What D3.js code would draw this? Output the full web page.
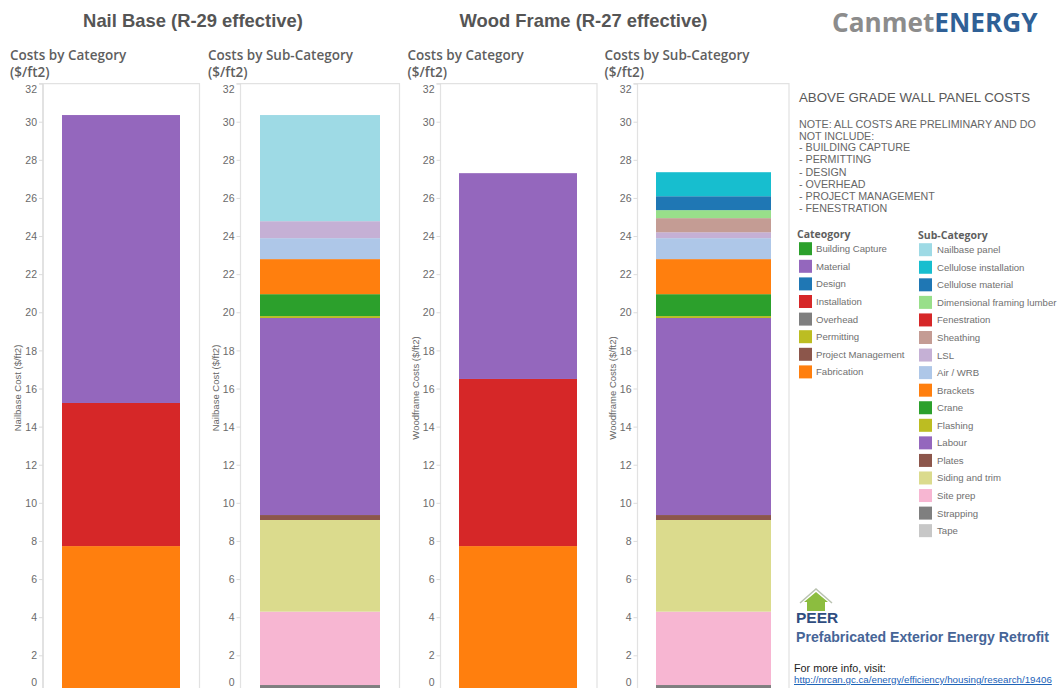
<!DOCTYPE html>
<html><head><meta charset="utf-8">
<script src="https://cdnjs.cloudflare.com/ajax/libs/d3/7.8.5/d3.min.js"></script>
<style>html,body{margin:0;padding:0;background:#fff;overflow:hidden}svg{display:block}text{font-family:"Liberation Sans",Arial,sans-serif}</style>
</head><body><svg id="c" width="1059" height="688"></svg>
<script>
// ---- data (top of stack to bottom, $/ft2) ----
const categoryNames = ["Building Capture","Material","Design","Installation","Overhead","Permitting","Project Management","Fabrication"];
const categoryColors = ["#2ca02c","#9467bd","#1f77b4","#d62728","#7f7f7f","#bcbd22","#8c564b","#ff7f0e"];
const subCategoryNames = ["Nailbase panel","Cellulose installation","Cellulose material","Dimensional framing lumber","Fenestration","Sheathing","LSL","Air / WRB","Brackets","Crane","Flashing","Labour","Plates","Siding and trim","Site prep","Strapping","Tape"];
const subCategoryColors = ["#9edae5","#17becf","#1f77b4","#98df8a","#d62728","#c49c94","#c5b0d5","#aec7e8","#ff7f0e","#2ca02c","#bcbd22","#9467bd","#8c564b","#dbdb8d","#f7b6d2","#7f7f7f","#c7c7c7"];
const nailCategoryValues = [0,15.11,0,7.51,0,0,0,7.73];
const woodCategoryValues = [0,10.8,0,8.77,0,0,0,7.73];
const nailSubValues = [5.57,0,0,0,0,0,0.89,1.1,1.84,1.15,0.1,10.34,0.26,4.81,3.85,0.44,0];
const woodSubValues = [0,1.26,0.73,0.42,0,0.74,0.31,1.1,1.84,1.15,0.1,10.34,0.26,4.81,3.85,0.44,0];
const tickValues = d3.range(0,33,2);
const noteLines = ["NOTE: ALL COSTS ARE PRELIMINARY AND DO","NOT INCLUDE:","- BUILDING CAPTURE","- PERMITTING","- DESIGN","- OVERHEAD","- PROJECT MANAGEMENT","- FENESTRATION"];
const noteBaselines = [128,140,151,163,176,188,200,212];

const svg = d3.select("#c");
const y = d3.scaleLinear().domain([0,32]).range([693.4,83.6]);
const FRAME = "#e2e2e2", TICK="#dcdcdc";
const panels = [
 {title:"Costs by Category", ax:"Nailbase Cost ($/ft2)", names:categoryNames, colors:categoryColors, vals:nailCategoryValues, tx:10, axX:18, l:43, lw:2, r:199.5, b0:62, b1:180},
 {title:"Costs by Sub-Category", ax:"Nailbase Cost ($/ft2)", names:subCategoryNames, colors:subCategoryColors, vals:nailSubValues, tx:208, axX:216, l:240.5, lw:1.2, r:399.5, b0:260, b1:380},
 {title:"Costs by Category", ax:"Woodframe Costs ($/ft2)", names:categoryNames, colors:categoryColors, vals:woodCategoryValues, tx:407.5, axX:416, l:440.5, lw:1.2, r:597, b0:459, b1:577},
 {title:"Costs by Sub-Category", ax:"Woodframe Costs ($/ft2)", names:subCategoryNames, colors:subCategoryColors, vals:woodSubValues, tx:604.5, axX:613, l:637.5, lw:1.2, r:789, b0:656, b1:771}
];
const heading = '"Open Sans","Noto Sans",sans-serif';
panels.forEach(p=>{
  const g = svg.append("g");
  const keys = p.names.slice().reverse();
  const row = {}; p.names.forEach((n,i)=>row[n]=p.vals[i]);
  const series = d3.stack().keys(keys)([row]);
  const color = d3.scaleOrdinal(p.names,p.colors);
  const x = d3.scaleBand().domain(["total"]).range([p.b0,p.b1]);
  g.selectAll("rect.bar").data(series.filter(s=>s[0][1]>s[0][0])).join("rect").attr("class","bar")
    .attr("x",x("total")).attr("width",x.bandwidth())
    .attr("y",d=>y(d[0][1])).attr("height",d=>y(d[0][0])-y(d[0][1]))
    .attr("fill",d=>color(d.key));
  g.append("path").attr("fill","none").attr("stroke",FRAME).attr("stroke-width",1.2)
    .attr("d",`M${p.l-4},83.6H${p.r}V688`);
  g.append("path").attr("fill","none").attr("stroke",FRAME).attr("stroke-width",p.lw)
    .attr("d",`M${p.l},83.6V688`);
  const a = g.append("g").attr("transform",`translate(${p.l},0)`)
    .call(d3.axisLeft(y).tickValues(tickValues).tickSize(4).tickPadding(2));
  a.select(".domain").remove();
  a.selectAll(".tick line").attr("stroke",TICK);
  a.selectAll(".tick text").attr("fill","#6a6a6a").style("font-size","10.5px").style("font-family",'"Liberation Sans"')
    .attr("dy",d=>d===32?"0.88em":d===0?"-0.75em":"0.35em");
  g.append("text").attr("transform",`translate(${p.axX+3},388) rotate(-90)`).attr("text-anchor","middle")
    .attr("fill","#666").style("font-size","9.5px").text(p.ax);
  const t = g.append("text").attr("x",p.tx).attr("fill","#5f5f5f").style("font-family",heading)
    .style("font-size","13.5px").style("font-weight","600");
  t.append("tspan").attr("x",p.tx).attr("y",60).text(p.title);
  t.append("tspan").attr("x",p.tx).attr("y",77).text("($/ft2)");
});
[["Nail Base (R-29 effective)",193],["Wood Frame (R-27 effective)",583.5]].forEach(([s,cx])=>{
  svg.append("text").attr("x",cx).attr("y",27).attr("text-anchor","middle").attr("fill","#555")
   .style("font-size","18.4px").style("font-weight","700").text(s);
});
const logo = svg.append("text").attr("x",832).attr("y",32).style("font-family",heading).style("font-size","26.2px").style("font-weight","700");
logo.append("tspan").attr("fill","#8c8c8c").text("Canmet");
logo.append("tspan").attr("fill","#2f6096").text("ENERGY");
svg.append("text").attr("x",799).attr("y",102).attr("fill","#595959").style("font-size","13.3px").text("ABOVE GRADE WALL PANEL COSTS");
svg.selectAll("text.note").data(noteLines).join("text").attr("class","note").attr("x",799)
  .attr("y",(d,i)=>noteBaselines[i]).attr("fill","#666").style("font-size","10.7px").text(d=>d);
function legend(title,names,colors,tx,sx,lx,ty,y0,step){
  svg.append("text").attr("x",tx).attr("y",ty).attr("fill","#5f5f5f").style("font-family",heading).style("font-size","10.5px").style("font-weight","700").text(title);
  const yl = d3.scalePoint().domain(names).range([y0,y0+step*(names.length-1)]);
  const it = svg.append("g").selectAll("g").data(names).join("g").attr("transform",d=>`translate(0,${yl(d)})`);
  it.append("rect").attr("x",sx).attr("y",-6.5).attr("width",13).attr("height",13).attr("fill",(d,i)=>colors[i]);
  it.append("text").attr("x",lx).attr("y",3.5).attr("fill","#707070").style("font-size","9.6px").text(d=>d);
}
legend("Cateogory",categoryNames,categoryColors,797,799,816,238,248.7,17.6);
legend("Sub-Category",subCategoryNames,subCategoryColors,918,919,937,239,249.7,17.56);
const house = svg.append("g");
house.append("path").attr("d","M800,603L816,589L832,603").attr("fill","none").attr("stroke","#b9c2b0").attr("stroke-width",1.5);
house.append("path").attr("d","M804,602L816,592L828,602H825V611H807V602Z").attr("fill","#8cbd3f");
svg.append("text").attr("x",796).attr("y",623).attr("fill","#2f4d80").style("font-size","15.5px").style("font-weight","700").text("PEER");
svg.append("text").attr("x",796).attr("y",642).attr("fill","#466597").style("font-size","14.1px").style("font-weight","700").text("Prefabricated Exterior Energy Retrofit");
svg.append("text").attr("x",794).attr("y",672).attr("fill","#222").style("font-size","10.8px").text("For more info, visit:");
svg.append("text").attr("x",794).attr("y",683).attr("fill","#1a62b8").attr("text-decoration","underline").style("font-size","9.75px").text("http://nrcan.gc.ca/energy/efficiency/housing/research/19406");
</script></body></html>
